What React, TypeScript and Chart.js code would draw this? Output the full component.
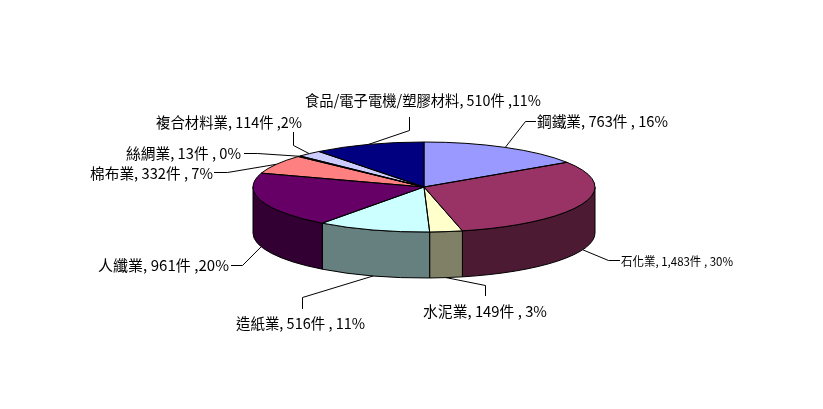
import React, { useEffect, useRef } from "react";
import { Chart, registerables } from "chart.js";

Chart.register(...registerables);

const categories = ["鋼鐵業", "石化業", "水泥業", "造紙業", "人纖業", "棉布業", "絲綢業", "複合材料業", "食品/電子電機/塑膠材料"];
const counts = [763, 1483, 149, 516, 961, 332, 13, 114, 510];
const labels = [
    "鋼鐵業, 763件 , 16%",
    "石化業, 1,483件 , 30%",
    "水泥業, 149件 , 3%",
    "造紙業, 516件 , 11%",
    "人纖業, 961件 ,20%",
    "棉布業, 332件 , 7%",
    "絲綢業, 13件 , 0%",
    "複合材料業, 114件 ,2%",
    "食品/電子電機/塑膠材料, 510件 ,11%",
];

const topColors = ["#9999ff", "#993366", "#ffffcc", "#ccffff", "#660066", "#ff8080", "#0066cc", "#ccccff", "#000080"];
const sideColors = ["#4d4d80", "#4d1a33", "#808066", "#667f7f", "#330033", "#804040", "#003366", "#666680", "#000040"];

// where each callout goes: leader line points after the slice anchor, then text box
const callouts = [
    { line: [[525.5, 121.5], [536, 121.5]], x: 537, y: 121, w: 131, size: 15 },
    { line: [[608.5, 260.5], [620, 260.5]], x: 621, y: 261, w: 112, size: 12 },
    { line: [[485.5, 285.5], [485.5, 296]], x: 423, y: 311, w: 124, size: 15 },
    { line: [[302.5, 297.5], [302.5, 309]], x: 236, y: 323, w: 129, size: 15 },
    { line: [[242.5, 265.5], [231, 265.5]], x: 98, y: 265, w: 131, size: 15 },
    { line: [[227.5, 172.5], [214, 172.5]], x: 90, y: 173, w: 123, size: 15 },
    { line: [[257.5, 153.5], [244, 153.5]], x: 126, y: 153, w: 115, size: 15 },
    { line: [[293.5, 145.5], [293.5, 132]], x: 156, y: 122, w: 146, size: 15 },
    { line: [[409.5, 130.5], [409.5, 117]], x: 305, y: 100, w: 236, size: 15 },
];

const RADIUS = 171;
const RADIUS_Y = 45;
const DEPTH = 46;

const pie3d = {
    id: "pie3d",
    beforeDatasetsDraw(chart: any) {
        const ctx = chart.ctx;
        const arcs = chart.getDatasetMeta(0).data;
        const { x, y } = arcs[0];

        // side wall, only the part facing the viewer
        arcs.forEach((arc: any, i: number) => {
            const a = Math.max(arc.startAngle, 0);
            const b = Math.min(arc.endAngle, Math.PI);
            if (b <= a) return;
            ctx.beginPath();
            ctx.ellipse(x, y, RADIUS, RADIUS_Y, 0, a, b, false);
            ctx.ellipse(x, y + DEPTH, RADIUS, RADIUS_Y, 0, b, a, true);
            ctx.closePath();
            ctx.fillStyle = sideColors[i];
            ctx.fill();
            ctx.strokeStyle = "#000";
            ctx.lineWidth = 1;
            ctx.stroke();
        });

        // flatten the slices chart.js draws next
        ctx.save();
        ctx.translate(x, y);
        ctx.scale(1, RADIUS_Y / RADIUS);
        ctx.translate(-x, -y);
    },
    afterDatasetsDraw(chart: any) {
        const ctx = chart.ctx;
        ctx.restore();

        const arcs = chart.getDatasetMeta(0).data;
        const { x, y } = arcs[0];

        arcs.forEach((arc: any) => {
            ctx.beginPath();
            ctx.moveTo(x, y);
            ctx.ellipse(x, y, RADIUS, RADIUS_Y, 0, arc.startAngle, arc.endAngle, false);
            ctx.closePath();
            ctx.strokeStyle = "#000";
            ctx.lineWidth = 1;
            ctx.stroke();
        });

        arcs.forEach((arc: any, i: number) => {
            const mid = (arc.startAngle + arc.endAngle) / 2;
            const ax = x + RADIUS * Math.cos(mid);
            let ay = y + RADIUS_Y * Math.sin(mid);
            if (Math.sin(mid) > 0) ay += DEPTH;

            const c = callouts[i];
            ctx.beginPath();
            ctx.moveTo(ax, ay);
            c.line.forEach((p) => ctx.lineTo(p[0], p[1]));
            ctx.strokeStyle = "#000";
            ctx.lineWidth = 1;
            ctx.stroke();

            ctx.fillStyle = "#000";
            ctx.font = `${c.size}px "Noto Sans CJK TC"`;
            ctx.textAlign = "left";
            ctx.textBaseline = "middle";
            // stretch or squeeze so the text fills the same box as the original
            const spare = c.w - ctx.measureText(labels[i]).width;
            ctx.letterSpacing = spare > 0 ? `${spare / labels[i].length}px` : "0px";
            ctx.fillText(labels[i], c.x, c.y, c.w);
            ctx.letterSpacing = "0px";
        });
    },
};

const App: React.FC = () => {
    const canvasRef = useRef<HTMLCanvasElement | null>(null);

    useEffect(() => {
        if (!canvasRef.current) return;
        const chart = new Chart(canvasRef.current, {
            type: "pie",
            data: {
                labels: categories,
                datasets: [
                    {
                        data: counts,
                        backgroundColor: topColors,
                        borderWidth: 0,
                    },
                ],
            },
            options: {
                animation: false,
                responsive: false,
                radius: RADIUS,
                layout: { padding: { left: 25, bottom: 35 } },
                plugins: {
                    legend: { display: false },
                    tooltip: { enabled: false },
                },
            },
            plugins: [pie3d],
        });
        return () => chart.destroy();
    }, []);

    return (
        <canvas
            ref={canvasRef}
            width={823}
            height={409}
            style={{ position: "absolute", left: 0, top: 0, background: "#fff" }}
        />
    );
};

export default App;
